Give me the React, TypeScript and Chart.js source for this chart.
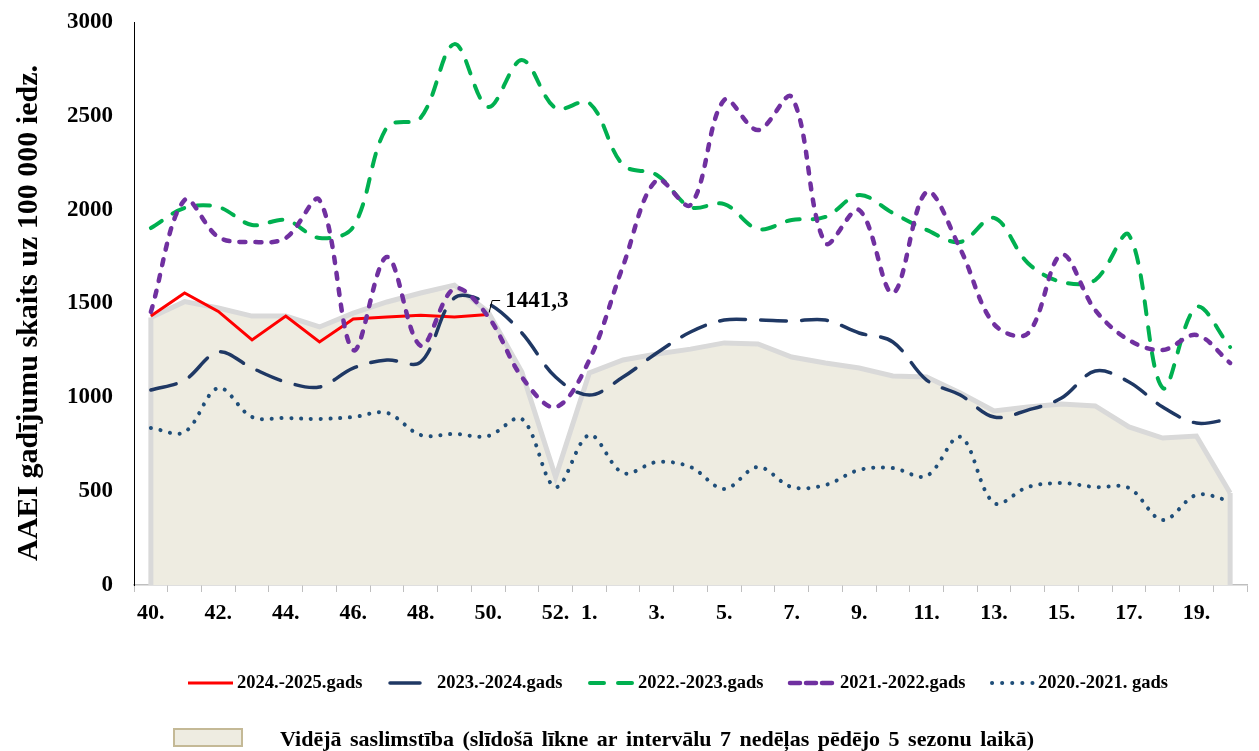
import React, { useEffect, useRef } from 'react';
import { Chart, registerables } from 'chart.js';

Chart.register(...registerables);

const weeks = ['40','41','42','43','44','45','46','47','48','49','50','51','52','1','2','3','4','5','6','7','8','9','10','11','12','13','14','15','16','17','18','19','20'];
const tickLabels = ['40.','','42.','','44.','','46.','','48.','','50.','','52.','1.','','3.','','5.','','7.','','9.','','11.','','13.','','15.','','17.','','19.',''];

const season2024 = [1433,1556,1458,1306,1433,1295,1417,1428,1437,1428,1441.3,null,null,null,null,null,null,null,null,null,null,null,null,null,null,null,null,null,null,null,null,null,null];
const season2023 = [1039,1092,1242,1156,1082,1055,1156,1199,1188,1530,1500,1343,1108,1012,1108,1236,1348,1412,1412,1407,1412,1343,1295,1092,1012,895,932,996,1140,1082,948,863,885];
const season2022 = [1902,2009,2014,1918,1945,1849,1908,2440,2490,2882,2547,2797,2541,2568,2238,2185,2014,2030,1897,1945,1961,2078,1982,1892,1828,1956,1716,1615,1625,1865,1050,1481,1268];
const season2021 = [1455,2051,1854,1828,1849,2051,1252,1748,1275,1580,1430,1108,948,1199,1700,2158,2025,2584,2424,2600,1822,1998,1556,2094,1790,1390,1340,1760,1465,1305,1252,1332,1183];
const season2020 = [837,815,1050,895,890,885,895,917,799,805,794,885,522,799,597,655,629,512,629,522,533,613,623,581,789,437,522,543,522,517,346,480,448];
const average = [1425,1510,1476,1433,1433,1375,1449,1508,1556,1598,1455,1135,575,1130,1199,1231,1257,1290,1284,1215,1183,1156,1114,1108,1023,927,948,964,954,842,783,794,490];

const seasonNames = ['2024.-2025.gads','2023.-2024.gads','2022.-2023.gads','2021.-2022.gads','2020.-2021. gads'];
const averageName = 'Vidējā saslimstība (slīdošā līkne ar intervālu 7 nedēļas pēdējo 5 sezonu laikā)';
const yTitle = 'AAEI gadījumu skaits uz 100 000 iedz.';

const FONT = "'Liberation Serif', 'Times New Roman', serif";
const RED = '#FF0000';
const NAVY = '#1F3864';
const GREEN = '#00B050';
const PURPLE = '#7030A0';
const DOTBLUE = '#1F4E79';
const AREA_FILL = '#EEECE1';
const AREA_LINE = '#D9D9D9';

const areaEdges = {
  id: 'areaEdges',
  afterDatasetDraw(chart: any, args: any) {
    if (chart.data.datasets[args.index].label !== averageName) return;
    const pts = args.meta.data;
    if (!pts.length) return;
    const base = chart.scales.y.getPixelForValue(0);
    const ctx = chart.ctx;
    ctx.save();
    ctx.strokeStyle = AREA_LINE;
    ctx.lineWidth = 5;
    ctx.lineCap = 'butt';
    const first = pts[0];
    const last = pts[pts.length - 1];
    ctx.beginPath();
    ctx.moveTo(first.x, base);
    ctx.lineTo(first.x, first.y);
    ctx.moveTo(last.x, base);
    ctx.lineTo(last.x, last.y);
    ctx.stroke();
    ctx.restore();
  },
};

const valueLabel = {
  id: 'valueLabel',
  afterDatasetsDraw(chart: any) {
    const meta = chart.getDatasetMeta(0);
    const data = chart.data.datasets[0].data as (number | null)[];
    let idx = -1;
    data.forEach((v, i) => { if (v !== null) idx = i; });
    if (idx < 0) return;
    const p = meta.data[idx];
    const ctx = chart.ctx;
    ctx.save();
    ctx.strokeStyle = '#000';
    ctx.lineWidth = 1;
    ctx.beginPath();
    ctx.moveTo(p.x + 1, p.y - 2);
    ctx.lineTo(p.x + 4, p.y - 14);
    ctx.lineTo(p.x + 12, p.y - 14);
    ctx.stroke();
    ctx.fillStyle = '#000';
    ctx.font = `bold 23px ${FONT}`;
    ctx.textBaseline = 'middle';
    ctx.textAlign = 'left';
    ctx.fillText(String(data[idx]).replace('.', ','), p.x + 17, p.y - 13);
    ctx.restore();
  },
};

const yTitlePlugin = {
  id: 'yTitlePlugin',
  afterDraw(chart: any) {
    const ctx = chart.ctx;
    ctx.save();
    ctx.translate(29, 313);
    ctx.rotate(-Math.PI / 2);
    ctx.fillStyle = '#000';
    ctx.font = `bold 30px ${FONT}`;
    ctx.textAlign = 'center';
    ctx.textBaseline = 'middle';
    ctx.fillText(yTitle, 0, 0);
    ctx.restore();
  },
};

const customLegend = {
  id: 'customLegend',
  afterDraw(chart: any) {
    const ctx = chart.ctx;
    ctx.save();
    const y1 = 683;
    const items = [
      { x0: 188, x1: 233, tx: 237, color: RED, width: 3, dash: [] as number[], cap: 'butt' },
      { x0: 390, x1: 420, tx: 437, color: NAVY, width: 3.5, dash: [], cap: 'round' },
      { x0: 590, x1: 635, tx: 638, color: GREEN, width: 4, dash: [14, 14], cap: 'round' },
      { x0: 790, x1: 837, tx: 840, color: PURPLE, width: 4.5, dash: [10, 6], cap: 'round' },
      { x0: 992, x1: 1034, tx: 1038, color: DOTBLUE, width: 4, dash: [0.1, 10], cap: 'round' },
    ];
    items.forEach((it, i) => {
      ctx.strokeStyle = it.color;
      ctx.lineWidth = it.width;
      ctx.lineCap = it.cap;
      ctx.setLineDash(it.dash);
      ctx.beginPath();
      ctx.moveTo(it.x0, y1);
      ctx.lineTo(it.x1, y1);
      ctx.stroke();
      ctx.setLineDash([]);
      ctx.fillStyle = '#000';
      ctx.font = `bold 18.5px ${FONT}`;
      ctx.textBaseline = 'alphabetic';
      ctx.textAlign = 'left';
      ctx.fillText(seasonNames[i], it.tx, 688);
    });
    ctx.fillStyle = AREA_FILL;
    ctx.strokeStyle = '#C4B996';
    ctx.lineWidth = 2;
    ctx.fillRect(174, 729, 68, 17);
    ctx.strokeRect(174, 729, 68, 17);
    ctx.fillStyle = '#000';
    ctx.font = `bold 22px ${FONT}`;
    (ctx as any).wordSpacing = '3px';
    ctx.fillText(averageName, 280, 746);
    ctx.restore();
  },
};

export default function App() {
  const ref = useRef<HTMLCanvasElement | null>(null);
  useEffect(() => {
    if (!ref.current) return;
    const chart = new Chart(ref.current, {
      type: 'line',
      data: {
        labels: weeks,
        datasets: [
          {
            label: seasonNames[0], data: season2024, borderColor: RED, borderWidth: 3,
            tension: 0, pointRadius: 0, fill: false, order: 5, spanGaps: false,
          },
          {
            label: seasonNames[1], data: season2023, borderColor: NAVY, borderWidth: 3.5,
            borderDash: [26, 15], borderCapStyle: 'round', tension: 0.35, pointRadius: 0, fill: false, order: 4,
          },
          {
            label: seasonNames[2], data: season2022, borderColor: GREEN, borderWidth: 4,
            borderDash: [13, 13], borderCapStyle: 'round', tension: 0.35, pointRadius: 0, fill: false, order: 3,
          },
          {
            label: seasonNames[3], data: season2021, borderColor: PURPLE, borderWidth: 4.5,
            borderDash: [6, 10], borderCapStyle: 'round', tension: 0.35, pointRadius: 0, fill: false, order: 2,
          },
          {
            label: seasonNames[4], data: season2020, borderColor: DOTBLUE, borderWidth: 4,
            borderDash: [0.1, 9.7], borderCapStyle: 'round', tension: 0.35, pointRadius: 0, fill: false, order: 1,
          },
          {
            label: averageName, data: average, borderColor: AREA_LINE, borderWidth: 5,
            backgroundColor: AREA_FILL, tension: 0, pointRadius: 0, fill: 'origin', order: 10,
          },
        ],
      },
      options: {
        animation: false,
        responsive: true,
        maintainAspectRatio: false,
        layout: { padding: { top: 22, right: 12, left: 0, bottom: 95 } },
        plugins: {
          legend: { display: false },
          tooltip: { enabled: false },
        },
        scales: {
          x: {
            type: 'category',
            offset: true,
            grid: { display: true, offset: true, drawOnChartArea: false, drawTicks: true, tickLength: 7, color: '#BFBFBF' },
            border: { display: true, color: '#BFBFBF', width: 1.5 },
            ticks: {
              autoSkip: false, maxRotation: 0, minRotation: 0, padding: 8, color: '#000',
              font: { family: FONT, size: 22, weight: 'bold' },
              callback: (_v: any, i: number) => tickLabels[i],
            },
            afterFit: (s: any) => { s.height = 71; s.paddingLeft = 0; s.paddingRight = 0; },
          },
          y: {
            min: 0, max: 3000,
            grid: { display: false },
            border: { display: true, color: '#000', width: 1 },
            ticks: {
              stepSize: 500, padding: 13, color: '#000',
              font: { family: FONT, size: 23, weight: 'bold' },
              callback: (v: any) => String(v),
            },
            title: { display: false },
            afterFit: (s: any) => { s.width = 134; s.paddingTop = 0; s.paddingBottom = 0; },
          },
        },
      },
      plugins: [areaEdges, valueLabel, yTitlePlugin, customLegend],
    } as any);
    return () => chart.destroy();
  }, []);
  return (
    <div style={{ position: 'absolute', left: 0, top: 0, width: 1259, height: 751 }}>
      <canvas ref={ref} />
    </div>
  );
}
